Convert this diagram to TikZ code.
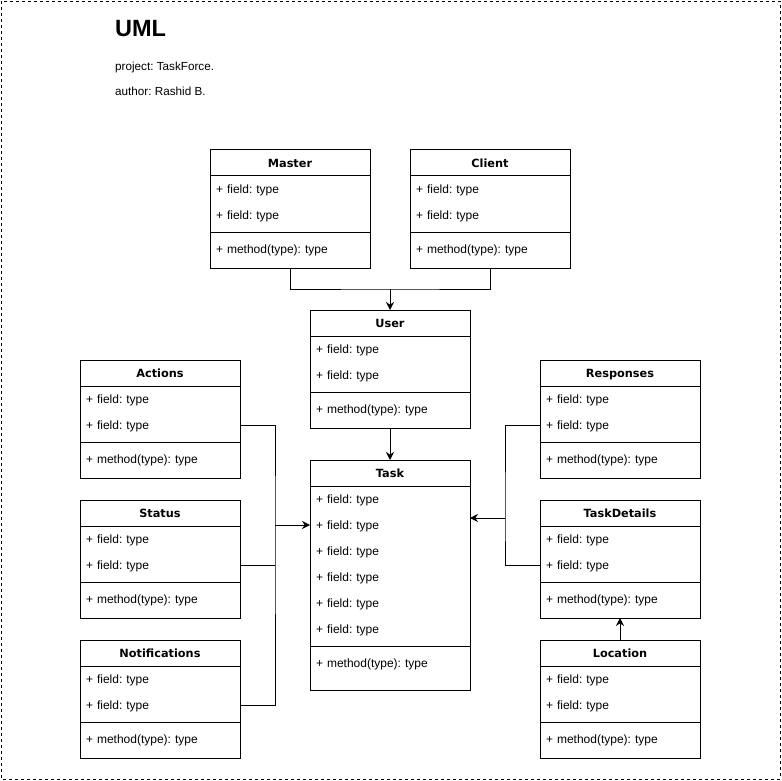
\documentclass[tikz,border=0pt]{standalone}
\usepackage{fontspec}
\setmainfont{Liberation Sans}
\newfontfamily\headfont{DejaVu Sans}
\usetikzlibrary{
    arrows.meta,
    positioning,
    calc
}
\frenchspacing

% one class box: name, top left corner, title, number of fields, height
\newcommand{\umlclass}[5]{%
    \node (#1) [class, minimum height=#5pt] at (#2) {};
    \node (#1-head) [classhead] at (#1.north west) {#3};
    \foreach \i in {1,...,#4}{
        \node (#1-f\i) [field] at ($(#1.north west)+(0,26*\i)$) {+ field: type};
    }
    \draw [line] ($(#1.north west)+(0,26*#4+30)$) -- ++(160,0);
    \node (#1-m) [field] at ($(#1.north west)+(0,26*#4+34)$) {+ method(type): type};
}

\begin{document}
\begin{tikzpicture}[
    x=1pt, y=-1pt,
    class/.style={draw, line width=1pt, minimum width=160pt,
                  anchor=north west, inner sep=0pt, outer sep=0pt},
    classhead/.style={class, minimum height=26pt,
                  font=\headfont\bfseries\fontsize{11.3}{13}\selectfont,
                  text height=10.2pt, text depth=2pt},
    field/.style={anchor=north west, minimum height=26pt, text width=148pt,
                  inner xsep=6pt, inner ysep=0pt, outer sep=0pt, align=left,
                  font=\fontsize{12}{14}\selectfont,
                  text height=10.6pt, text depth=2pt},
    note/.style={anchor=base west, inner sep=0pt,
                  font=\fontsize{11.7}{14}\selectfont},
    line/.style={line width=1pt},
    arrow/.style={-{Stealth[length=8pt,width=8pt]}, line width=1pt}
]
    \useasboundingbox (0,0) rectangle (782,781);
    \draw [line width=0.8pt, dash pattern=on 3pt off 3pt] (1,1) rectangle (780,779);

    % Title
    \node (title) [anchor=base west, inner sep=0pt,
                   font=\bfseries\fontsize{23.5}{28}\selectfont] at (115,37) {UML};
    \node (project) [note] at (115,71) {project: TaskForce.};
    \node (author) [note] at (115,96) {author: Rashid B.};

    % Classes
    \umlclass{master}{210,150}{Master}{2}{118}
    \umlclass{client}{410,150}{Client}{2}{118}
    \umlclass{user}{310,310}{User}{2}{118}
    \umlclass{task}{310,460}{Task}{6}{230}
    \umlclass{actions}{80,360}{Actions}{2}{118}
    \umlclass{status}{80,500}{Status}{2}{118}
    \umlclass{notifications}{80,640}{Notifications}{2}{118}
    \umlclass{responses}{540,360}{Responses}{2}{118}
    \umlclass{taskdetails}{540,500}{TaskDetails}{2}{118}
    \umlclass{location}{540,640}{Location}{2}{118}

    % Master and Client to User
    \coordinate (mc) at (390,289);
    \draw [line] (master.south) |- (mc) -| (client.south);
    \draw [arrow] (mc) -- (user.north);
    \draw [arrow] (user.south) -- (task.north);

    % left side to Task
    \coordinate (lbus) at (275,525);
    \draw [line] (actions-f2.east) -| (lbus) |- (notifications-f2.east);
    \draw [line] (status-f2.east) -- (status-f2.east -| lbus);
    \draw [arrow] (lbus) -- (lbus -| task.west);

    % right side to Task
    \coordinate (rbus) at (505,518);
    \draw [line] (responses-f2.west) -| (rbus) |- (taskdetails-f2.west);
    \draw [arrow] (rbus) -- (rbus -| task.east);
    \draw [arrow] (location.north) -- (taskdetails.south);

\end{tikzpicture}
\end{document}
